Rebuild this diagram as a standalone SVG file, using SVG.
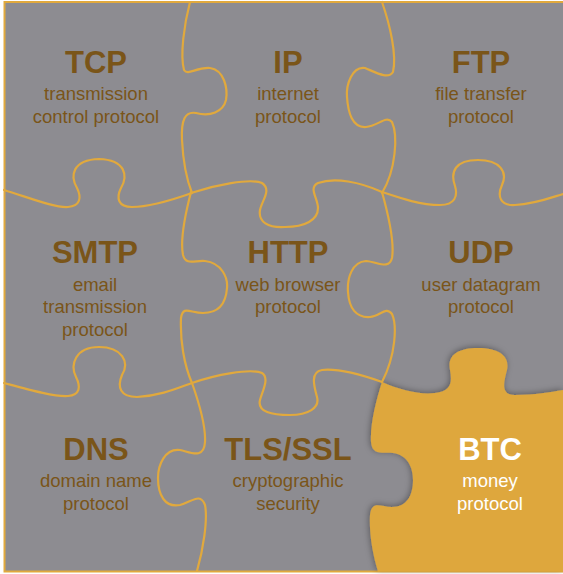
<svg xmlns="http://www.w3.org/2000/svg" width="563" height="574" viewBox="0 0 563 574">
<defs>
<style>
.bg{fill:#8d8c91;stroke:#e1a93d;stroke-width:2}
.edge{fill:none;stroke:#e1a93d;stroke-width:2.2;stroke-linecap:round;stroke-linejoin:round}
.t{font-family:"Liberation Sans",Arial,Helvetica,sans-serif;fill:#7a5519;text-anchor:middle}
.h{font-size:31px;font-weight:bold}
.s{font-size:18.5px}
.w{fill:#ffffff}
.btc{fill:#dea73d}
</style>
<filter id="shadow" x="-10%" y="-10%" width="120%" height="120%">
<feDropShadow dx="-1" dy="-1" stdDeviation="3" flood-color="#000" flood-opacity="0.35"/>
</filter>
</defs>
<rect class="bg" x="4.5" y="2" width="600" height="569.5"/>
<g id="btc-piece">
<path class="btc" filter="url(#shadow)" d="M382,382 C400,390 420,395 435,393 C452,391 452,382 450,370 C447,355 458,348 478,348 C500,348 510,357 507,370 C504,382 500,395 515,395 C535,395 550,392 563,390 L563,571.5 L378,571.5 C373,555 369,535 370,515 C372,500 380,507 392,507 C407,507 413,495 413,480 C413,468 408,455 393,453 C383,452 372,456 371,442 C370,425 376,400 382,382 Z"/>
</g>
<g id="connectors">
<path class="edge" d="M190,2 C184,25 180,55 184,70 C188,76 196,67 210,68 C224,70 228,88 226,100 C223,112 210,117 196,113 C185,111 181,120 182,140 C183,160 186,178 192,193"/>
<path class="edge" d="M382,2 C390,25 397,55 393,72 C388,80 375,72 365,68 C352,66 346,85 347,97 C348,112 352,128 366,127 C378,126 386,115 392,122 C398,135 396,170 382,193"/>
<path class="edge" d="M4,190 C30,198 55,208 68,207 C80,206 82,198 77,188 C70,176 72,160 99,159 C126,160 128,176 121,188 C116,198 118,207 132,207 C150,207 175,199 192,193"/>
<path class="edge" d="M191,193 C215,185 250,178 262,183 C272,190 262,200 260,210 C258,222 268,228 285,227 C305,227 318,220 318,208 C318,198 308,188 318,183 C335,177 360,182 382,192"/>
<path class="edge" d="M382,192 C400,198 420,205 440,205 C455,205 458,196 455,186 C450,172 455,160 478,160 C500,160 508,172 502,185 C497,196 500,206 515,205 C535,204 550,198 563,194"/>
<path class="edge" d="M191,192 C185,215 180,240 183,255 C186,266 195,260 205,261 C222,263 228,278 227,288 C226,302 220,313 203,313 C190,313 183,305 181,318 C180,340 184,365 192,383"/>
<path class="edge" d="M382,192 C387,210 395,240 392,258 C389,270 378,262 366,261 C352,262 347,278 348,292 C349,308 356,318 370,317 C380,316 386,306 392,314 C397,325 396,355 382,382"/>
<path class="edge" d="M4,383 C30,390 55,397 68,396 C80,395 81,387 76,377 C70,365 75,347 99,347 C122,347 130,362 122,375 C117,387 120,397 137,397 C160,396 178,388 192,383"/>
<path class="edge" d="M192,383 C215,375 250,368 262,373 C270,378 262,392 260,400 C257,412 272,415 290,415 C308,415 320,408 317,397 C314,386 310,372 322,370 C340,368 365,376 382,382"/>
<path class="edge" d="M192,383 C198,400 206,425 205,442 C204,460 190,452 180,450 C165,448 158,465 158,478 C158,495 165,508 180,505 C192,502 200,492 205,505 C208,520 203,550 197,571"/>
</g>
<g id="tcp"><text class="t h" x="96" y="73">TCP</text><text class="t s" x="96" y="99.5">transmission</text><text class="t s" x="96" y="122.5">control protocol</text></g>
<g id="ip"><text class="t h" x="288" y="73">IP</text><text class="t s" x="288" y="99.5">internet</text><text class="t s" x="288" y="122.5">protocol</text></g>
<g id="ftp"><text class="t h" x="481" y="73">FTP</text><text class="t s" x="481" y="99.5">file transfer</text><text class="t s" x="481" y="122.5">protocol</text></g>
<g id="smtp"><text class="t h" x="95" y="263">SMTP</text><text class="t s" x="95" y="290.5">email</text><text class="t s" x="95" y="313">transmission</text><text class="t s" x="95" y="335.5">protocol</text></g>
<g id="http"><text class="t h" x="288" y="263">HTTP</text><text class="t s" x="288" y="291">web browser</text><text class="t s" x="288" y="313">protocol</text></g>
<g id="udp"><text class="t h" x="481" y="263">UDP</text><text class="t s" x="481" y="291">user datagram</text><text class="t s" x="481" y="313">protocol</text></g>
<g id="dns"><text class="t h" x="96" y="460">DNS</text><text class="t s" x="96" y="487">domain name</text><text class="t s" x="96" y="509.5">protocol</text></g>
<g id="tls"><text class="t h" x="288" y="460">TLS/SSL</text><text class="t s" x="288" y="487">cryptographic</text><text class="t s" x="288" y="509.5">security</text></g>
<g id="btc"><text class="t h w" x="490" y="460">BTC</text><text class="t s w" x="490" y="487">money</text><text class="t s w" x="490" y="509.5">protocol</text></g>
</svg>
